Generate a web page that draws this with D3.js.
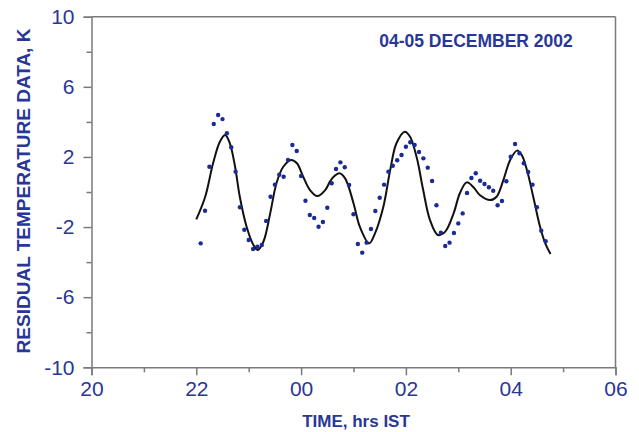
<!DOCTYPE html>
<html><head><meta charset="utf-8">
<script src="https://cdn.jsdelivr.net/npm/d3@7"></script>
<style>
html,body{margin:0;padding:0;background:#fff;}
svg{display:block;font-family:"Liberation Sans",Arial,sans-serif;}
</style></head>
<body><svg id="chart" width="639" height="432"></svg>
<script>
// observations: every 5 minutes starting 22:05 IST (hours continue past 24)
const obsStart = 22 + 5/60;
const obsStepMin = 5;
const obsValues = [
 -2.93,-1.07,1.44,3.88,4.39,4.16,3.35,2.55,1.16,-0.87,
 -2.15,-2.74,-3.25,-3.12,-3.02,-1.65,-0.27,0.42,0.99,0.87,
 1.83,2.68,2.34,0.91,-0.50,-1.31,-1.48,-1.98,-1.71,-0.90,
 0.50,1.31,1.69,1.41,0.40,-1.27,-2.97,-3.46,-2.89,-2.11,
 -1.08,-0.33,0.42,1.16,1.50,1.81,2.11,2.58,2.84,2.68,
 2.28,1.92,1.39,0.63,-0.76,-2.32,-3.08,-2.89,-2.34,-1.79,
 -1.22,-0.06,0.80,1.07,0.64,0.46,0.27,0.07,-0.76,-0.51,
 0.61,2.01,2.74,2.21,1.64,1.14,0.42,-0.87,-2.21,-2.81
];
// fitted curve
const fitTime = [22.0,22.17,22.32,22.45,22.55,22.64,22.74,22.83,22.96,23.09,23.17,23.28,23.41,23.53,23.66,23.81,23.92,24.04,24.17,24.31,24.46,24.55,24.62,24.73,24.84,25.0,25.12,25.30,25.41,25.57,25.70,25.82,25.98,26.08,26.21,26.33,26.46,26.61,26.75,26.91,27.03,27.16,27.29,27.41,27.61,27.73,27.86,27.99,28.12,28.21,28.31,28.43,28.56,28.66,28.76];
const fitValue = [-1.56,-0.27,1.64,2.87,3.25,2.78,1.44,-0.27,-1.98,-3.02,-3.31,-2.84,-1.22,0.50,1.44,1.83,1.64,0.87,0.11,-0.23,0.11,0.59,0.87,1.07,0.78,-0.64,-1.98,-2.93,-2.36,-0.84,1.25,2.78,3.44,3.15,1.92,0.11,-1.60,-2.45,-2.26,-1.22,-0.07,0.55,0.27,-0.17,-0.46,-0.27,0.68,1.83,2.36,2.11,1.25,-0.27,-1.98,-2.93,-3.54];
const xMajorTicks = [20,22,24,26,28,30];
const xTickLabels = ["20","22","00","02","04","06"];
const yMajorTicks = [10,6,2,-2,-6,-10];
const yTickLabels = ["10","6","2","-2","-6","-10"];
const title = "04-05 DECEMBER 2002";
const xTitle = "TIME, hrs IST";
const yTitle = "RESIDUAL TEMPERATURE DATA, K";

const txt = "#283796", axisCol = "#7a7a7a", dotCol = "#1a2a98";
const L = 91.5, R = 615.5, T = 16.7, B = 367.3;
const svg = d3.select("#chart");
const x = d3.scaleLinear().domain([20,30]).range([L,R]);
const y = d3.scaleLinear().domain([-10,10]).range([B,T]);

// box top/right
svg.append("line").attr("x1",L).attr("x2",R).attr("y1",T).attr("y2",T).attr("stroke",axisCol).attr("stroke-width",1.5);
svg.append("line").attr("x1",R).attr("x2",R).attr("y1",T).attr("y2",B).attr("stroke",axisCol).attr("stroke-width",1.5);

const gxm = svg.append("g").attr("transform",`translate(0,${B})`)
  .call(d3.axisBottom(x).tickValues(d3.range(21,30,2)).tickSize(5).tickFormat(""));
const gx = svg.append("g").attr("transform",`translate(0,${B})`)
  .call(d3.axisBottom(x).tickValues(xMajorTicks).tickSize(8).tickPadding(6)
    .tickFormat((d,i)=>xTickLabels[i]));
const gym = svg.append("g").attr("transform",`translate(${L},0)`)
  .call(d3.axisLeft(y).tickValues([8,4,0,-4,-8]).tickSize(5).tickFormat(""));
const gy = svg.append("g").attr("transform",`translate(${L},0)`)
  .call(d3.axisLeft(y).tickValues(yMajorTicks).tickSize(8).tickPadding(9)
    .tickFormat((d,i)=>yTickLabels[i]));
[gxm,gx,gym,gy].forEach(g=>{
  g.selectAll("path").attr("stroke",axisCol).attr("stroke-width",1.5);
  g.selectAll("line").attr("stroke",axisCol).attr("stroke-width",1.5);
  g.selectAll("text").attr("fill",txt).style("font-size","21px")
   .style("font-family","'Liberation Sans',Arial,sans-serif");
});
gym.select("path").remove(); gxm.select("path").remove();

// fitted curve
const fitData = fitTime.map((t,i)=>[t,fitValue[i]]);
svg.append("path").datum(fitData)
  .attr("d", d3.line().x(d=>x(d[0])).y(d=>y(d[1])).curve(d3.curveCatmullRom))
  .attr("fill","none").attr("stroke","#111").attr("stroke-width",2);

// observations
svg.append("g").selectAll("circle").data(obsValues).join("circle")
  .attr("cx",(d,i)=>x(obsStart + i*obsStepMin/60)).attr("cy",d=>y(d))
  .attr("r",2.2).attr("fill",dotCol);

// titles
svg.append("text").attr("x",476).attr("y",47).attr("text-anchor","middle")
  .attr("fill",txt).style("font-size","17.5px").style("font-weight","bold").text(title);
svg.append("text").attr("x",356).attr("y",427).attr("text-anchor","middle")
  .attr("fill",txt).style("font-size","17px").style("font-weight","bold").text(xTitle);
svg.append("text").attr("transform","translate(30,191) rotate(-90)").attr("text-anchor","middle")
  .attr("fill",txt).style("font-size","19px").style("font-weight","bold").text(yTitle);
</script></body></html>
